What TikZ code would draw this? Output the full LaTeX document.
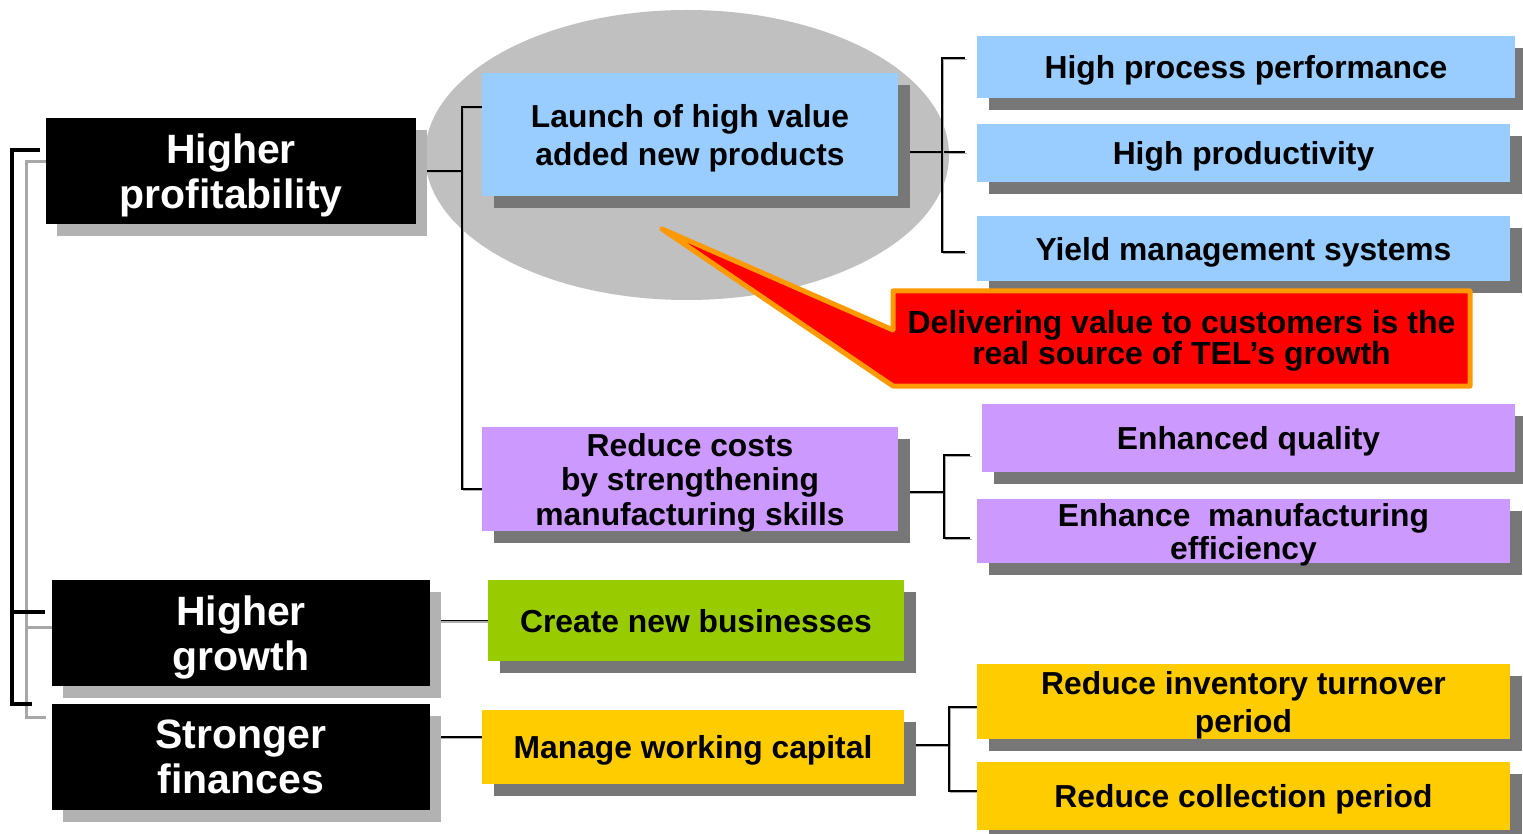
\documentclass[tikz,border=0pt]{standalone}
\usepackage{fontspec}
\setmainfont{Liberation Sans}
\usetikzlibrary{shadows,backgrounds}
\definecolor{cblue}{HTML}{99CCFF}
\definecolor{cpurple}{HTML}{CC99FF}
\definecolor{cgreen}{HTML}{99CC00}
\definecolor{cyellow}{HTML}{FFCC00}
\definecolor{shdark}{HTML}{777777}
\definecolor{shlight}{HTML}{B2B2B2}
\definecolor{ovalgray}{HTML}{C0C0C0}
\definecolor{cred}{HTML}{FF0000}
\definecolor{corange}{HTML}{FF9900}
\definecolor{rulergray}{HTML}{A8A8A8}
\begin{document}
\begin{tikzpicture}[x=1pt,y=-1pt,
  cbox/.style={rectangle, inner sep=0pt, align=center, text depth=0pt,
    font=\bfseries\fontsize{31.8}{38}\selectfont,
    drop shadow={shadow xshift=12pt, shadow yshift=-12pt, fill=shdark, opacity=1}},
  kbox/.style={rectangle, fill=black, text=white, inner sep=0pt, align=center, text depth=0pt,
    font=\bfseries\fontsize{41}{45}\selectfont,
    drop shadow={shadow xshift=11pt, shadow yshift=-12pt, fill=shlight, opacity=1}},
  conn/.style={line width=1.5pt, black,
    preaction={draw=gray!65, line width=1.5pt, transform canvas={shift={(1.5pt,-1.5pt)}}}},
]
\useasboundingbox (0,0) rectangle (1523,834);

% left column
\node[kbox, minimum width=370pt, minimum height=106pt] (hp) at (231,171) {Higher\\profitability};
\node[kbox, minimum width=378pt, minimum height=106pt] (hg) at (241,633) {Higher\\growth};
\node[kbox, minimum width=378pt, minimum height=106pt] (sf) at (241,757) {Stronger\\finances};

% middle column
\node[cbox, fill=cblue, minimum width=416pt, minimum height=123pt] (launch) at (690,134.5) {Launch of high value\\added new products};
\node[cbox, fill=cpurple, minimum width=416pt, minimum height=104pt, font=\bfseries\fontsize{31.8}{34.5}\selectfont] (rcost) at (690,479) {Reduce costs\\by strengthening\\manufacturing skills};
\node[cbox, fill=cgreen, minimum width=416pt, minimum height=81pt] (cnb) at (696,620.5) {Create new businesses};
\node[cbox, fill=cyellow, minimum width=422pt, minimum height=74pt] (mwc) at (693,747) {Manage working capital};

% right column
\node[cbox, fill=cblue, minimum width=538pt, minimum height=62pt] (hpp) at (1246,67) {High process performance};
\node[cbox, fill=cblue, minimum width=533pt, minimum height=58pt] (hprod) at (1243.5,153) {High productivity};
\node[cbox, fill=cblue, minimum width=533pt, minimum height=65pt] (yms) at (1243.5,248.5) {Yield management systems};
\node[cbox, fill=cpurple, minimum width=533pt, minimum height=68pt] (eq) at (1248.5,438) {Enhanced quality};
\node[cbox, fill=cpurple, minimum width=533pt, minimum height=64pt, font=\bfseries\fontsize{31.8}{33}\selectfont] (emf) at (1243.5,531) {Enhance~ manufacturing\\efficiency};
\node[cbox, fill=cyellow, minimum width=533pt, minimum height=75pt] (rit) at (1243.5,701.5) {Reduce inventory turnover\\period};
\node[cbox, fill=cyellow, minimum width=533pt, minimum height=68pt] (rcp) at (1243.5,796) {Reduce collection period};

% callout
\filldraw[fill=cred, draw=corange, line width=5pt, line join=round]
  (662,229) -- (893,330) -- (893,291) -- (1470,291) -- (1470,386) -- (893,386) -- cycle;
\node[font=\bfseries\fontsize{32}{31}\selectfont, align=center, inner sep=0pt, text depth=0pt] (callout) at (1181.5,337.5)
  {Delivering value to customers is the\\real source of TEL’s growth};

\begin{pgfonlayer}{background}
  \fill[white] (0,0) rectangle (1523,834);
  \fill[ovalgray] (687,155) ellipse [x radius=262, y radius=145];
  % left bracket with ruler shadow
  \draw[rulergray, line width=3pt] (hp.west |- 0,162) -- (26,162) -- (26,717) -- (46,717);
  \draw[rulergray, line width=3pt] (26,627) -- (hg.west |- 0,627);
  \draw[black, line width=4pt] (40,150) -- (12,150) -- (12,704) -- (32,704);
  \draw[black, line width=4pt] (12,612) -- (45,612);
  % connectors
  \draw[conn] (hp.east) -- (462,171);
  \draw[conn] (launch.west |- 0,107) -- (462,107) -- (462,489) -- (rcost.west |- 0,489);
  \draw[conn] (launch.east |- 0,152) -- (965,152);
  \draw[conn] (965,58) -- (942,58) -- (942,252) -- (965,252);
  \draw[conn] (rcost.east |- 0,492) -- (944,492);
  \draw[conn] (970,455) -- (944,455) -- (944,538) -- (970,538);
  \draw[conn] (hg.east |- 0,620.5) -- (cnb.west);
  \draw[conn] (sf.east |- 0,737) -- (mwc.west |- 0,737);
  \draw[conn] (mwc.east |- 0,745) -- (949,745);
  \draw[conn] (977,707) -- (949,707) -- (949,791) -- (977,791);
\end{pgfonlayer}
\end{tikzpicture}
\end{document}
